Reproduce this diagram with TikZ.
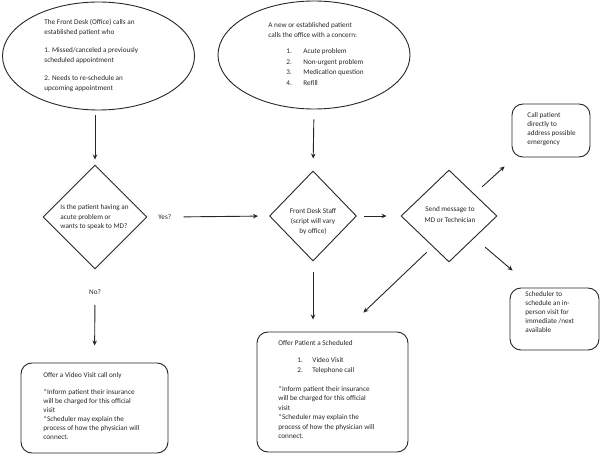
\documentclass[tikz,border=0pt]{standalone}
\usepackage{fontspec}
\setmainfont{Carlito}
\usetikzlibrary{shapes.geometric,arrows.meta,calc}
\begin{document}
\begin{tikzpicture}[x=1pt,y=-1pt,
  line width=0.9pt,
  shapeline/.style={draw=black!85, line width=0.9pt, inner sep=0pt},
  ell/.style={shapeline, ellipse, minimum width=192pt, minimum height=108pt},
  dia/.style={shapeline, diamond},
  rbox/.style={shapeline, rectangle, rounded corners=11pt},
  txt/.style={inner sep=0pt, anchor=north west, align=left, font=\fontsize{7.2}{9.5}\selectfont, text=black!85},
  ctxt/.style={txt, anchor=north, align=center},
  arr/.style={draw=black!85, line width=0.9pt, -{Stealth[length=5pt,width=4.5pt]}},
  ln/.style={draw=black!85, line width=0.9pt}
]
\useasboundingbox (0,0) rectangle (600,454);

% shapes
\node[ell] (e1) at (98.5,56) {};
\node[ell] (e2) at (314,55) {};
\node[dia, minimum width=104pt, minimum height=104pt] (d1) at (95,217) {};
\node[dia, minimum width=87pt, minimum height=90pt] (d2) at (313,216) {};
\node[dia, minimum width=96pt, minimum height=92pt] (d3) at (449,216) {};
\node[rbox, minimum width=78pt, minimum height=53pt] (call) at (551,130.5) {};
\node[rbox, minimum width=89pt, minimum height=62pt] (sched) at (554.5,319) {};
\node[rbox, minimum width=147pt, minimum height=90pt] (box1) at (94.5,408) {};
\node[rbox, minimum width=151pt, minimum height=120pt] (offer) at (332.5,392) {};

% texts
\node[txt, font=\fontsize{7.2}{10}\selectfont] (t1) at (44,18.5) {The Front Desk (Office) calls an\\established patient who\\[8pt]1. Missed/canceled a previously\\scheduled appointment\\[8pt]2. Needs to re-schedule an\\upcoming appointment};
\node[txt, font=\fontsize{7.2}{10.5}\selectfont] (t2) at (268,22) {A new or established patient\\calls the office with a concern:\\[5.5pt]
\hspace*{18pt}\makebox[17pt][l]{1.}Acute problem\\
\hspace*{18pt}\makebox[17pt][l]{2.}Non-urgent problem\\
\hspace*{18pt}\makebox[17pt][l]{3.}Medication question\\
\hspace*{18pt}\makebox[17pt][l]{4.}Refill};
\node[txt] (t3) at (60,204.5) {Is the patient having an\\acute problem or\\wants to speak to MD?};
\node[ctxt, font=\fontsize{7.2}{10}\selectfont] (t4) at (313,208.5) {Front Desk Staff\\(script will vary\\by office)};
\node[ctxt, font=\fontsize{7.2}{11}\selectfont] (t5) at (450,206.5) {Send message to\\MD or Technician};
\node[txt, font=\fontsize{7.2}{9}\selectfont] (t6) at (527,112.5) {Call patient\\directly to\\address possible\\emergency};
\node[txt, font=\fontsize{7.2}{9}\selectfont] (t7) at (525,291.5) {Scheduler to\\schedule an in-\\person visit for\\immediate /next\\available};
\node[txt, font=\fontsize{7.2}{9}\selectfont] (t8) at (43,372.5) {Offer a Video Visit call only\\[8pt]*Inform patient their insurance\\will be charged for this official\\visit\\*Scheduler may explain the\\process of how the physician will\\connect.};
\node[txt] (t9) at (278,340.5) {Offer Patient a Scheduled\\[7.5pt]
\hspace*{19pt}\makebox[15pt][l]{1.}Video Visit\\
\hspace*{19pt}\makebox[15pt][l]{2.}Telephone call\\[9.5pt]
*Inform patient their insurance\\will be charged for this official\\visit\\*Scheduler may explain the\\process of how the physician will\\connect.};
\node[txt, anchor=west] (yes) at (158,217) {Yes?};
\node[txt, anchor=center] (no) at (95,292) {No?};

% connectors
\draw[arr, shorten <=5pt, shorten >=5pt] (d1.north |- e1.south) -- (d1.north);
\draw[arr, shorten <=10pt, shorten >=12pt] (e2.south) -- (d2.north);
\draw[arr, shorten <=12pt, shorten >=11pt] (yes.east) -- (d2.west);
\draw[arr, shorten <=10pt, shorten >=17pt] (no.south) -- (box1.north);
\draw[arr, shorten <=7pt, shorten >=14pt] (d2.east) -- (d3.west);
\draw[arr, shorten <=11pt, shorten >=12pt] (d2.south) -- (offer.north -| d2.south);
\draw[arr] ($(d3.north east)+(9,-6)$) -- ($(call.south west)+(-7,9)$);
\draw[arr] ($(d3.south east)+(12,8)$) -- ($(sched.north west)+(3,-17)$);
\draw[arr] ($(d3.south west)+(2,13)$) -- ($(offer.north east)+(-45,-19)$);
\end{tikzpicture}
\end{document}
